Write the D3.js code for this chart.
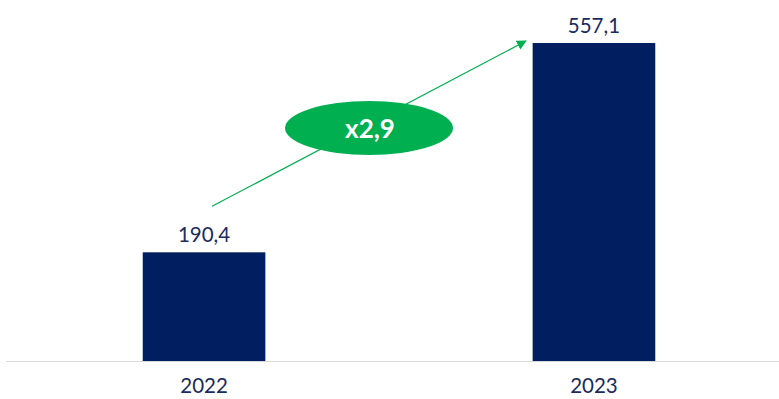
<!DOCTYPE html>
<html>
<head>
<meta charset="utf-8">
<script src="https://cdn.jsdelivr.net/npm/d3@7"></script>
<style>
  body { margin: 0; background: #fff; }
</style>
</head>
<body>
<div class="chart"></div>
<script>
// chart data
let years = ["2022", "2023"];
let values = [190.4, 557.1];
let valueLabels = ["190,4", "557,1"];
let growthLabel = "x2,9";

let width = 779, height = 399;
let baseY = 361;

let svg = d3.select(".chart")
  .append("svg")
  .attr("width", width)
  .attr("height", height)
  .style("font-family", "Lato, 'Open Sans', sans-serif");

let x = d3.scaleBand()
  .domain(years)
  .range([9, 789])
  .paddingInner(0.6855)
  .paddingOuter(0.343);

let y = d3.scaleLinear()
  .domain([0, 557.1])
  .range([baseY, 43]);

// baseline
svg.append("line")
  .attr("x1", 6)
  .attr("x2", 779)
  .attr("y1", baseY + 0.5)
  .attr("y2", baseY + 0.5)
  .attr("stroke", "#d9d9d9")
  .attr("stroke-width", 1.2);

// bars
svg.selectAll(".bar")
  .data(values)
  .enter()
  .append("rect")
  .attr("class", "bar")
  .attr("x", (d, i) => x(years[i]))
  .attr("y", d => y(d))
  .attr("width", x.bandwidth())
  .attr("height", d => baseY - y(d))
  .attr("fill", "#001e60");

// value labels
svg.selectAll(".val")
  .data(values)
  .enter()
  .append("text")
  .attr("class", "val")
  .attr("x", (d, i) => x(years[i]) + x.bandwidth() / 2)
  .attr("y", d => y(d) - 10)
  .attr("text-anchor", "middle")
  .attr("font-size", 20.5)
  .attr("fill", "#1a2b5e")
  .text((d, i) => valueLabels[i]);

// year labels
svg.selectAll(".yr")
  .data(years)
  .enter()
  .append("text")
  .attr("class", "yr")
  .attr("x", d => x(d) + x.bandwidth() / 2)
  .attr("y", 393)
  .attr("text-anchor", "middle")
  .attr("font-size", 20.5)
  .attr("fill", "#1a2b5e")
  .text(d => d);

// growth arrow
svg.append("defs")
  .append("marker")
  .attr("id", "head")
  .attr("viewBox", "0 0 10 10")
  .attr("refX", 9)
  .attr("refY", 5)
  .attr("markerWidth", 10)
  .attr("markerHeight", 10)
  .attr("markerUnits", "userSpaceOnUse")
  .attr("orient", "auto")
  .append("path")
  .attr("d", "M0,0 L10,5 L0,10 Z")
  .attr("fill", "#00b050");

let cx0 = x(years[0]) + x.bandwidth() / 2;
let cx1 = x(years[1]) + x.bandwidth() / 2;

svg.append("line")
  .attr("x1", cx0 + 8)
  .attr("y1", y(values[0]) - 46)
  .attr("x2", cx1 - 68)
  .attr("y2", y(values[1]) - 2)
  .attr("stroke", "#00b050")
  .attr("stroke-width", 1.2)
  .attr("marker-end", "url(#head)");

svg.append("ellipse")
  .attr("cx", 369)
  .attr("cy", 128)
  .attr("rx", 84)
  .attr("ry", 27)
  .attr("fill", "#00b050");

svg.append("text")
  .attr("x", 370)
  .attr("y", 137.5)
  .attr("text-anchor", "middle")
  .attr("font-size", 26)
  .attr("font-weight", "bold")
  .attr("fill", "#ffffff")
  .text(growthLabel);
</script>
</body>
</html>
